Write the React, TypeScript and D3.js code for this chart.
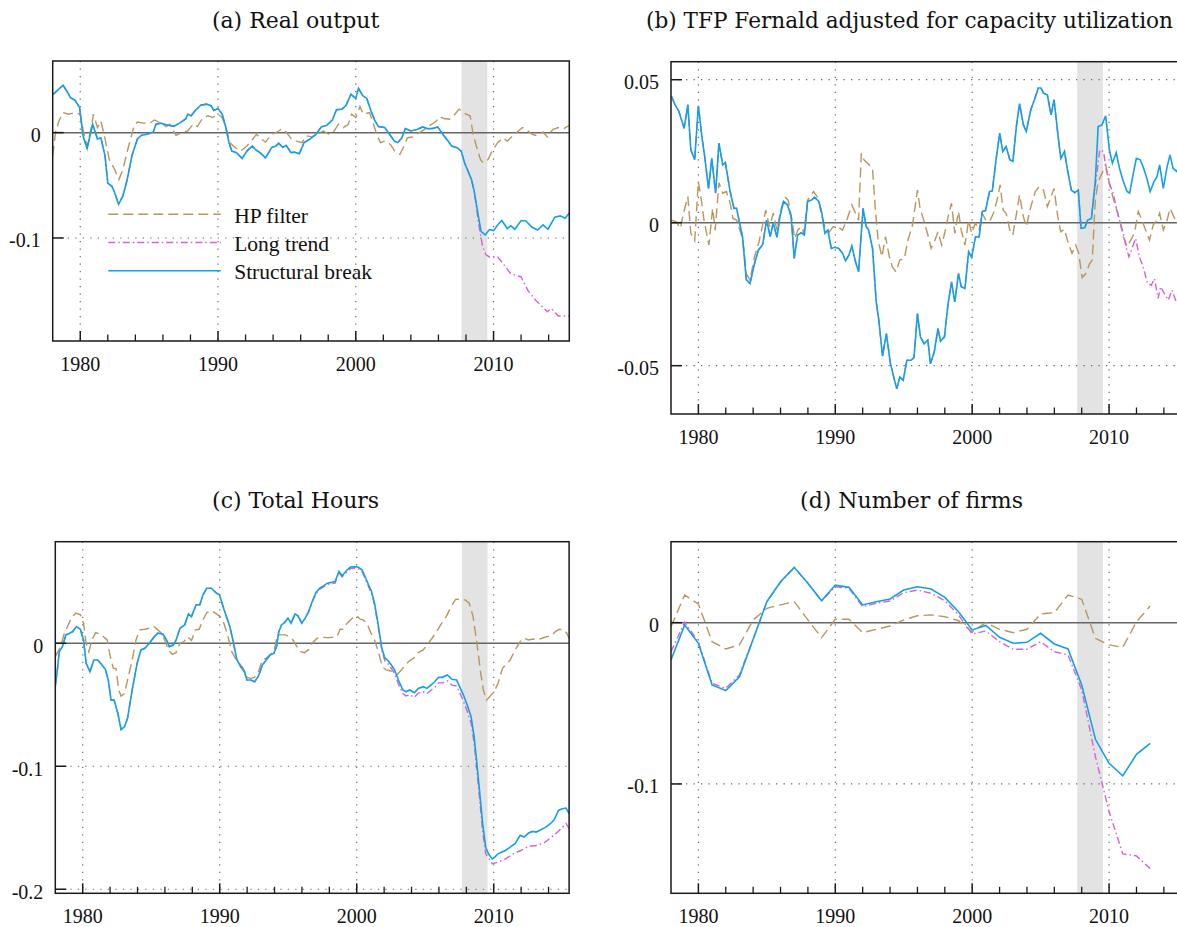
import React from 'react';
import * as d3 from 'd3';

type P = [number, number];

// ---------- shared axis data ----------
const decadeTicks = [1980, 1990, 2000, 2010];
const minorTicks = [1982, 1984, 1986, 1988, 1992, 1994, 1996, 1998, 2002, 2004, 2006, 2008, 2012, 2014];
const recession: P = [2007.67, 2009.55];
const seriesNames = ['HP filter', 'Long trend', 'Structural break'];

// ---------- (a) Real output ----------
const aCommon: P[] = [
  [1978.0, 0.036], [1978.25, 0.039], [1978.5, 0.042], [1978.75, 0.045], [1979.0, 0.040], [1979.3, 0.033],
  [1979.6, 0.031], [1979.95, 0.024], [1980.2, -0.003], [1980.5, -0.015], [1980.9, 0.008], [1981.25, -0.006],
  [1981.5, -0.005], [1981.8, -0.022], [1982.0, -0.048], [1982.3, -0.051], [1982.5, -0.057], [1982.78, -0.068],
  [1983.1, -0.060], [1983.4, -0.045], [1983.75, -0.022], [1984.15, -0.006], [1984.45, -0.0025], [1984.85, -0.0015],
  [1985.3, 0.0006], [1985.5, 0.008], [1985.85, 0.009], [1986.1, 0.008], [1986.4, 0.007], [1986.8, 0.006],
  [1987.2, 0.009], [1987.65, 0.013], [1987.8, 0.0175], [1988.05, 0.016], [1988.35, 0.021], [1988.75, 0.026],
  [1989.15, 0.027], [1989.5, 0.0255], [1989.7, 0.021], [1990.0, 0.023], [1990.3, 0.0175], [1990.55, 0.006],
  [1990.8, -0.0095], [1991.0, -0.0175], [1991.35, -0.019], [1991.75, -0.0245], [1992.1, -0.0175], [1992.5, -0.0127],
  [1992.7, -0.016], [1993.05, -0.019], [1993.45, -0.024], [1993.9, -0.014], [1994.2, -0.0127], [1994.4, -0.010],
  [1994.7, -0.014], [1994.95, -0.012], [1995.3, -0.019], [1995.55, -0.0185], [1995.9, -0.020], [1996.25, -0.0095],
  [1996.65, -0.0064], [1997.1, -0.0016], [1997.5, 0.0054], [1997.9, 0.007], [1998.3, 0.012], [1998.6, 0.0217],
  [1999.0, 0.0223], [1999.3, 0.026], [1999.65, 0.0366], [1999.85, 0.034], [2000.0, 0.0325], [2000.2, 0.042],
  [2000.5, 0.035], [2000.8, 0.0325], [2001.1, 0.0207], [2001.4, 0.011], [2001.65, 0.0057], [2002.1, 0.0048],
  [2002.45, -0.0016], [2002.8, -0.008], [2003.05, -0.0095], [2003.35, -0.0048], [2003.6, 0.0038], [2004.0, 0.0016],
  [2004.45, 0.003], [2004.85, 0.0054], [2005.2, 0.0038], [2005.55, 0.0038], [2005.95, 0.0054], [2006.4, -0.003],
  [2006.7, -0.008], [2006.95, -0.0127], [2007.35, -0.0143], [2007.65, -0.0175], [2007.9, -0.0287], [2008.1, -0.035],
  [2008.4, -0.0446], [2008.6, -0.0557],
];
const aStructTail: P[] = [
  [2008.9, -0.0796], [2009.1, -0.094], [2009.4, -0.097], [2009.7, -0.092], [2010.0, -0.093], [2010.3, -0.0876],
  [2010.6, -0.0834], [2011.0, -0.091], [2011.25, -0.0885], [2011.55, -0.0917], [2012.0, -0.0834], [2012.35, -0.0838],
  [2012.8, -0.0898], [2013.2, -0.0924], [2013.6, -0.0876], [2013.95, -0.0917], [2014.45, -0.0803], [2014.85, -0.079],
  [2015.2, -0.0812], [2015.5, -0.0764],
];
const aLongTail: P[] = [
  [2008.9, -0.085], [2009.2, -0.108], [2009.45, -0.116], [2009.7, -0.118], [2010.3, -0.118], [2010.85, -0.127],
  [2011.25, -0.134], [2012.0, -0.137], [2012.5, -0.150], [2013.05, -0.159], [2013.9, -0.170], [2014.2, -0.167],
  [2014.7, -0.174], [2015.5, -0.174],
];
const aHP: P[] = [
  [1978.0, -0.022], [1978.2, 0.0], [1978.45, 0.011], [1978.75, 0.019], [1979.15, 0.0175], [1979.6, 0.019],
  [1980.0, 0.0175], [1980.2, 0.003], [1980.5, -0.013], [1980.85, 0.008], [1980.95, 0.0175], [1981.25, 0.005],
  [1981.5, 0.011], [1981.8, -0.006], [1982.1, -0.025], [1982.5, -0.035], [1982.8, -0.0446], [1983.1, -0.035],
  [1983.45, -0.016], [1983.9, 0.006], [1984.15, 0.010], [1984.6, 0.009], [1985.1, 0.0095], [1985.4, 0.012],
  [1985.85, 0.009], [1986.25, 0.0057], [1986.5, 0.008], [1986.95, -0.0025], [1987.35, 0.0], [1987.8, 0.0016],
  [1988.2, 0.008], [1988.5, 0.0057], [1988.9, 0.0143], [1989.3, 0.016], [1989.6, 0.0143], [1990.0, 0.0175],
  [1990.3, 0.0143], [1990.55, 0.006], [1990.85, -0.0095], [1991.25, -0.0143], [1991.65, -0.0175], [1992.1, -0.0127],
  [1992.5, -0.0064], [1992.8, -0.0016], [1993.05, -0.005], [1993.45, -0.009], [1993.9, -0.0016], [1994.3, 0.0006],
  [1994.65, 0.0038], [1994.95, 0.0006], [1995.35, -0.0064], [1995.7, -0.008], [1996.1, -0.0095], [1996.4, -0.003],
  [1996.8, -0.004], [1997.2, -0.0016], [1997.65, 0.0016], [1998.05, -0.0016], [1998.35, 0.0], [1998.75, 0.008],
  [1999.1, 0.0048], [1999.45, 0.008], [1999.7, 0.0175], [2000.0, 0.0143], [2000.3, 0.0248], [2000.55, 0.0175],
  [2001.0, 0.019], [2001.25, 0.0096], [2001.55, -0.003], [2001.8, -0.0095], [2002.1, -0.008], [2002.5, -0.011],
  [2002.9, -0.019], [2003.2, -0.0207], [2003.45, -0.0143], [2003.75, -0.0048], [2004.15, -0.004], [2004.6, 0.0],
  [2005.0, 0.003], [2005.4, 0.007], [2005.85, 0.011], [2006.1, 0.0153], [2006.4, 0.0134], [2006.8, 0.0127],
  [2007.2, 0.0175], [2007.5, 0.0223], [2007.8, 0.0197], [2008.0, 0.0175], [2008.3, 0.016], [2008.5, 0.0],
  [2008.75, -0.0127], [2009.05, -0.0255], [2009.25, -0.0287], [2009.6, -0.0255], [2009.9, -0.0175], [2010.3, -0.0095],
  [2010.7, -0.0048], [2011.0, -0.008], [2011.4, -0.003], [2011.8, 0.0016], [2012.1, 0.0048], [2012.35, 0.003],
  [2012.8, -0.0016], [2013.2, -0.003], [2013.6, 0.0006], [2013.9, -0.004], [2014.3, 0.003], [2014.7, 0.0048],
  [2015.1, 0.0038], [2015.5, 0.007],
];

// ---------- (b) TFP Fernald adjusted for capacity utilization ----------
const bCommon: P[] = [
  [1978.03, 0.0442], [1978.3, 0.0412], [1978.58, 0.0389], [1978.96, 0.033], [1979.23, 0.0412], [1979.45, 0.0255],
  [1979.73, 0.022], [1980.0, 0.0409], [1980.27, 0.0296], [1980.46, 0.0231], [1980.74, 0.012], [1980.98, 0.0225],
  [1981.26, 0.0103], [1981.5, 0.0278], [1981.78, 0.0202], [1981.97, 0.021], [1982.32, 0.0109], [1982.6, 0.005],
  [1982.79, 0.005], [1983.23, -0.0051], [1983.5, -0.0199], [1983.77, -0.0213], [1984.1, -0.0143], [1984.38, -0.0096],
  [1984.7, -0.0076], [1984.98, 0.0009], [1985.25, -0.0049], [1985.47, 0.0], [1985.74, -0.0051], [1985.96, 0.0023],
  [1986.23, 0.0074], [1986.51, 0.0062], [1986.78, 0.0021], [1987.0, -0.0125], [1987.25, -0.0043], [1987.52, -0.0035],
  [1987.74, -0.0043], [1987.98, 0.0074], [1988.26, 0.0079], [1988.48, 0.0089], [1988.8, 0.0074], [1989.02, 0.0033],
  [1989.24, -0.0037], [1989.46, -0.0026], [1989.71, -0.009], [1989.98, -0.0086], [1990.25, -0.009], [1990.53, -0.0107],
  [1990.75, -0.0133], [1991.0, -0.0113], [1991.21, -0.0082], [1991.48, -0.0137], [1991.7, -0.0172], [1992.03, 0.005],
  [1992.25, -0.0012], [1992.44, -0.0026], [1992.72, -0.009], [1992.99, -0.0277], [1993.18, -0.0341], [1993.45, -0.0467],
  [1993.73, -0.0388], [1994.03, -0.0493], [1994.27, -0.054], [1994.49, -0.0581], [1994.71, -0.054], [1994.96, -0.0551],
  [1995.23, -0.0481], [1995.53, -0.0481], [1995.75, -0.0472], [1996.0, -0.0318], [1996.22, -0.040], [1996.49, -0.0423],
  [1996.76, -0.0411], [1996.95, -0.0493], [1997.23, -0.0452], [1997.5, -0.037], [1997.69, -0.0414], [1997.97, -0.040],
  [1998.24, -0.0283], [1998.49, -0.0207], [1998.73, -0.0277], [1999.0, -0.0178], [1999.2, -0.0224], [1999.47, -0.023],
  [1999.74, -0.0102], [1999.96, -0.0121], [2000.24, -0.0049], [2000.51, -0.0049], [2000.73, 0.0039], [2000.97, 0.0042],
  [2001.27, 0.0109], [2001.47, 0.0111], [2001.74, 0.022], [2002.01, 0.0313], [2002.23, 0.0249], [2002.48, 0.0266],
  [2002.75, 0.022], [2002.97, 0.0214], [2003.24, 0.0342], [2003.46, 0.0416], [2003.74, 0.0342], [2003.95, 0.0319],
  [2004.28, 0.0395], [2004.56, 0.0432], [2004.83, 0.0471], [2005.02, 0.0471], [2005.21, 0.0453], [2005.49, 0.0447],
  [2005.76, 0.0377], [2005.98, 0.043], [2006.25, 0.0313], [2006.47, 0.0225], [2006.74, 0.0249], [2006.96, 0.0185],
  [2007.24, 0.0114], [2007.48, 0.0105], [2007.75, 0.0114], [2007.95, -0.002], [2008.22, -0.0018], [2008.44, 0.0009],
  [2008.71, 0.0015],
];
const bStructTail: P[] = [
  [2008.99, 0.0144], [2009.2, 0.0336], [2009.48, 0.0342], [2009.75, 0.0374], [2010.02, 0.0255], [2010.24, 0.0208],
  [2010.52, 0.0245], [2010.76, 0.019], [2011.04, 0.0144], [2011.31, 0.0109], [2011.5, 0.0103], [2011.77, 0.0173],
  [2011.99, 0.0225], [2012.27, 0.022], [2012.48, 0.0196], [2012.76, 0.0155], [2013.0, 0.0109], [2013.28, 0.0144],
  [2013.5, 0.0161], [2013.69, 0.0202], [2013.96, 0.012], [2014.24, 0.0196], [2014.45, 0.0237], [2014.67, 0.019],
  [2014.95, 0.0179], [2015.2, 0.021], [2015.5, 0.019],
];
const bLongTail: P[] = [
  [2008.85, 0.0079], [2009.12, 0.0179], [2009.32, 0.0255], [2009.59, 0.0249], [2009.8, 0.0185], [2010.02, 0.0138],
  [2010.3, 0.0103], [2010.49, 0.0062], [2010.76, 0.0009], [2011.04, -0.0037], [2011.23, -0.0084], [2011.45, -0.0119],
  [2011.72, -0.0084], [2011.94, -0.0055], [2012.21, -0.0119], [2012.48, -0.0154], [2012.81, -0.0213], [2013.09, -0.0218],
  [2013.31, -0.0195], [2013.58, -0.0265], [2013.77, -0.0224], [2014.04, -0.0248], [2014.32, -0.0271], [2014.59, -0.0236],
  [2014.95, -0.0283], [2015.5, -0.027],
];
const bHP: P[] = [
  [1978.03, 0.0009], [1978.36, 0.0004], [1978.69, -0.002], [1978.91, 0.0033], [1979.23, 0.0091], [1979.45, -0.0037],
  [1979.73, -0.0063], [1980.0, 0.0144], [1980.22, 0.0079], [1980.41, 0.0009], [1980.77, -0.0078], [1981.04, 0.005],
  [1981.23, -0.0026], [1981.5, 0.014], [1981.78, 0.0103], [1982.05, 0.0109], [1982.32, 0.0068], [1982.52, 0.0015],
  [1982.79, 0.0009], [1983.23, -0.0055], [1983.5, -0.0178], [1983.77, -0.0201], [1984.1, -0.0119], [1984.43, -0.0067],
  [1984.92, 0.0044], [1985.2, -0.0014], [1985.47, 0.0033], [1985.74, -0.0026], [1986.02, 0.0044], [1986.29, 0.0091],
  [1986.56, 0.0079], [1986.84, 0.0009], [1987.03, -0.0055], [1987.27, -0.0026], [1987.52, -0.0014], [1987.71, -0.0037],
  [1987.98, 0.0079], [1988.42, 0.0109], [1988.75, 0.0085], [1988.97, 0.0033], [1989.24, -0.0014], [1989.57, -0.0032],
  [1989.84, -0.0014], [1990.17, -0.0014], [1990.53, -0.0026], [1990.88, 0.0015], [1991.21, 0.0062], [1991.48, 0.0033],
  [1991.7, 0.0009], [1991.9, 0.0243], [1992.09, 0.022], [1992.36, 0.0208], [1992.72, 0.019], [1992.91, 0.0056],
  [1993.13, -0.0061], [1993.4, -0.0119], [1993.67, -0.0049], [1993.95, -0.0119], [1994.16, -0.0154], [1994.44, -0.0172],
  [1994.71, -0.0131], [1995.04, -0.0125], [1995.31, -0.0061], [1995.64, -0.0008], [1996.0, 0.0114], [1996.19, 0.005],
  [1996.46, 0.0009], [1996.73, -0.0037], [1997.0, -0.009], [1997.28, -0.0061], [1997.5, -0.0032], [1997.77, -0.0078],
  [1997.99, -0.0037], [1998.24, 0.0021], [1998.49, 0.0068], [1998.73, -0.0037], [1999.0, 0.0039], [1999.2, -0.0026],
  [1999.47, -0.0078], [1999.74, 0.0009], [1999.96, -0.0037], [2000.24, -0.0002], [2000.51, -0.0026], [2000.73, 0.0033],
  [2001.0, 0.0009], [2001.27, 0.0004], [2001.55, 0.0033], [2001.82, 0.0079], [2002.04, 0.0132], [2002.26, 0.0044],
  [2002.48, 0.0033], [2002.75, -0.0026], [2002.97, -0.0043], [2003.24, 0.0033], [2003.46, 0.0097], [2003.74, 0.0021],
  [2003.95, -0.0014], [2004.28, 0.0056], [2004.61, 0.0109], [2004.88, 0.0126], [2005.21, 0.0114], [2005.49, 0.0056],
  [2005.76, 0.0091], [2005.98, 0.012], [2006.25, 0.0021], [2006.47, -0.0032], [2006.74, -0.0023], [2007.02, -0.0072],
  [2007.29, -0.0107], [2007.56, -0.0078], [2007.78, -0.0107], [2008.03, -0.0192], [2008.3, -0.0178], [2008.58, -0.0143],
  [2008.77, -0.0131], [2008.99, 0.0079], [2009.2, 0.0144], [2009.48, 0.0173], [2009.75, 0.0202], [2010.02, 0.0138],
  [2010.3, 0.0085], [2010.52, 0.005], [2010.76, 0.0009], [2011.04, -0.0049], [2011.31, -0.0084], [2011.58, -0.0061],
  [2011.85, -0.0037], [2012.13, 0.0039], [2012.4, 0.0009], [2012.67, -0.0026], [2012.95, -0.0061], [2013.22, -0.0008],
  [2013.5, 0.0009], [2013.69, 0.0033], [2013.96, -0.0026], [2014.24, 0.0009], [2014.45, 0.005], [2014.73, 0.0021],
  [2014.95, -0.0002], [2015.2, 0.002], [2015.5, 0.0],
];

// ---------- (c) Total Hours ----------
const cCommon: P[] = [
  [1978.0, -0.0348], [1978.15, -0.0217], [1978.29, -0.0068], [1978.52, -0.0027], [1978.77, 0.0068], [1979.05, 0.0082],
  [1979.27, 0.0095], [1979.55, 0.0136], [1979.83, 0.0114], [1980.06, 0.0027], [1980.25, -0.0163], [1980.53, -0.0231],
  [1980.81, -0.0136], [1981.09, -0.0136], [1981.37, -0.0171], [1981.65, -0.0212], [1981.87, -0.0299], [1982.07, -0.0462],
  [1982.29, -0.0462], [1982.57, -0.0571], [1982.8, -0.0701], [1983.05, -0.0679], [1983.27, -0.0611], [1983.61, -0.038],
  [1983.97, -0.0163], [1984.25, -0.0054], [1984.53, -0.0041], [1984.86, 0.0], [1985.23, 0.0054], [1985.48, 0.0082],
  [1985.84, 0.0076], [1986.12, 0.0027], [1986.32, -0.0027], [1986.6, -0.0014], [1986.82, 0.0027], [1987.1, 0.0122],
  [1987.44, 0.0149], [1987.72, 0.0239], [1987.94, 0.0217], [1988.28, 0.0313], [1988.55, 0.0313], [1988.78, 0.0394],
  [1989.06, 0.0448], [1989.39, 0.0448], [1989.76, 0.0408], [1989.98, 0.0394], [1990.32, 0.0272], [1990.74, 0.0136],
  [1991.01, 0.0], [1991.24, -0.013], [1991.52, -0.019], [1991.8, -0.0231], [1991.99, -0.0299], [1992.27, -0.0299],
  [1992.55, -0.0313], [1992.83, -0.0266], [1993.11, -0.0177], [1993.39, -0.0136], [1993.67, -0.0095], [1993.95, -0.0082],
  [1994.15, -0.0027], [1994.31, 0.0095], [1994.51, 0.0149], [1994.73, 0.0168], [1994.98, 0.0204], [1995.21, 0.0163],
  [1995.49, 0.0239], [1995.71, 0.0223], [1995.99, 0.0163], [1996.24, 0.0204],
];
const cStructTail: P[] = [
  [1996.49, 0.0258], [1996.75, 0.034], [1997.03, 0.0413], [1997.3, 0.0448], [1997.58, 0.0467], [1997.86, 0.0489],
  [1998.14, 0.0495], [1998.42, 0.0503], [1998.7, 0.0584], [1998.93, 0.0549], [1999.26, 0.0592], [1999.54, 0.062],
  [1999.82, 0.0622], [2000.1, 0.062], [2000.38, 0.0598], [2000.58, 0.0549], [2000.86, 0.0476], [2001.08, 0.0421],
  [2001.3, 0.0326], [2001.55, 0.0163], [2001.83, -0.0041], [2002.06, -0.0122], [2002.25, -0.0136], [2002.53, -0.0177],
  [2002.76, -0.0217], [2003.04, -0.0299], [2003.37, -0.038], [2003.6, -0.0394], [2003.87, -0.038], [2004.21, -0.0402],
  [2004.49, -0.0367], [2004.85, -0.0353], [2005.13, -0.0367], [2005.41, -0.034], [2005.69, -0.0313], [2005.97, -0.0277],
  [2006.25, -0.0277], [2006.61, -0.0258], [2006.95, -0.0293], [2007.29, -0.0299], [2007.51, -0.0353], [2007.79, -0.0421],
  [2008.07, -0.0503], [2008.35, -0.0598], [2008.57, -0.0761], [2008.77, -0.0978], [2008.96, -0.1196], [2009.19, -0.1467],
  [2009.41, -0.1658], [2009.61, -0.1712], [2009.89, -0.1753], [2010.08, -0.1739], [2010.31, -0.1712], [2010.59, -0.1698],
  [2010.86, -0.1685], [2011.2, -0.1658], [2011.56, -0.163], [2011.93, -0.1562], [2012.21, -0.1576], [2012.54, -0.1543],
  [2012.82, -0.153], [2013.1, -0.1535], [2013.44, -0.1516], [2013.8, -0.1495], [2014.13, -0.1467], [2014.41, -0.1435],
  [2014.72, -0.1359], [2015.0, -0.1345], [2015.28, -0.134], [2015.5, -0.1386],
];
const cLongTail: P[] = [
  [1996.49, 0.0255], [1996.75, 0.0335], [1997.03, 0.0405], [1997.3, 0.044], [1997.58, 0.0458], [1997.86, 0.0478],
  [1998.14, 0.0485], [1998.42, 0.049], [1998.7, 0.0575], [1998.93, 0.054], [1999.26, 0.0578], [1999.54, 0.0608],
  [1999.82, 0.0612], [2000.1, 0.0608], [2000.38, 0.0585], [2000.58, 0.0535], [2000.86, 0.0462], [2001.08, 0.0405],
  [2001.3, 0.031], [2001.55, 0.0145], [2001.83, -0.006], [2002.06, -0.0145], [2002.25, -0.016], [2002.53, -0.0205],
  [2002.76, -0.0245], [2003.04, -0.033], [2003.37, -0.041], [2003.6, -0.0428], [2003.87, -0.0418], [2004.21, -0.044],
  [2004.49, -0.0405], [2004.85, -0.0395], [2005.13, -0.041], [2005.41, -0.0382], [2005.69, -0.0358], [2005.97, -0.0322],
  [2006.25, -0.0322], [2006.61, -0.0305], [2006.95, -0.034], [2007.29, -0.0348], [2007.51, -0.040], [2007.79, -0.047],
  [2008.07, -0.0555], [2008.35, -0.065], [2008.57, -0.0815], [2008.77, -0.1035], [2008.96, -0.1255], [2009.19, -0.153],
  [2009.41, -0.171], [2009.89, -0.1793], [2010.31, -0.178], [2010.86, -0.1753], [2011.42, -0.1712], [2011.97, -0.1685],
  [2012.54, -0.1652], [2013.1, -0.1644], [2013.66, -0.1625], [2014.22, -0.1576], [2014.78, -0.1522], [2015.28, -0.1467],
  [2015.5, -0.1508],
];
const cHP: P[] = [
  [1978.0, -0.0109], [1978.15, -0.0076], [1978.38, -0.0027], [1978.66, 0.0082], [1978.94, 0.0149], [1979.22, 0.0217],
  [1979.5, 0.0245], [1979.83, 0.0231], [1980.06, 0.0163], [1980.25, 0.0], [1980.45, -0.0068], [1980.67, 0.0027],
  [1980.95, 0.0087], [1981.23, 0.0076], [1981.51, 0.0054], [1981.79, 0.0027], [1982.01, -0.0109], [1982.24, -0.0204],
  [1982.43, -0.0204], [1982.63, -0.038], [1982.8, -0.0429], [1983.05, -0.0408], [1983.33, -0.0272], [1983.61, -0.0136],
  [1983.89, 0.0027], [1984.17, 0.0109], [1984.53, 0.0114], [1984.86, 0.0122], [1985.2, 0.0136], [1985.48, 0.0109],
  [1985.76, 0.0082], [1985.98, 0.0027], [1986.26, -0.0054], [1986.54, -0.009], [1986.82, -0.0076], [1987.1, 0.0],
  [1987.38, 0.0014], [1987.66, 0.0054], [1987.94, 0.0022], [1988.22, 0.0109], [1988.5, 0.0114], [1988.78, 0.019],
  [1989.06, 0.025], [1989.39, 0.0266], [1989.76, 0.0239], [1990.04, 0.0217], [1990.32, 0.0158], [1990.6, 0.0054],
  [1990.88, -0.0068], [1991.15, -0.0122], [1991.43, -0.0163], [1991.71, -0.0204], [1991.99, -0.0277], [1992.27, -0.0285],
  [1992.55, -0.0277], [1992.83, -0.0231], [1993.11, -0.0136], [1993.39, -0.0122], [1993.67, -0.0095], [1993.95, -0.0068],
  [1994.23, 0.0068], [1994.51, 0.0068], [1994.79, 0.0068], [1995.07, 0.0054], [1995.35, 0.0027], [1995.63, -0.0027],
  [1995.91, -0.0068], [1996.19, -0.0076], [1996.47, -0.0054], [1996.75, 0.0], [1997.11, 0.0041], [1997.44, 0.0049],
  [1997.86, 0.0046], [1998.28, 0.0049], [1998.56, 0.0054], [1998.79, 0.0114], [1998.98, 0.0114], [1999.26, 0.0158],
  [1999.54, 0.019], [1999.82, 0.0217], [2000.02, 0.0223], [2000.24, 0.0196], [2000.46, 0.019], [2000.74, 0.0163],
  [2001.02, 0.0087], [2001.3, 0.0027], [2001.58, -0.0068], [2001.86, -0.019], [2002.14, -0.0217], [2002.42, -0.0223],
  [2002.7, -0.0231], [2002.98, -0.025], [2003.26, -0.0217], [2003.54, -0.0177], [2003.87, -0.0141], [2004.15, -0.0122],
  [2004.49, -0.0076], [2004.85, -0.0054], [2005.13, -0.0014], [2005.5, 0.0041], [2005.83, 0.0095], [2006.17, 0.0158],
  [2006.53, 0.0217], [2006.89, 0.0299], [2007.23, 0.0359], [2007.65, 0.0353], [2007.93, 0.0353], [2008.21, 0.0326],
  [2008.49, 0.0217], [2008.77, 0.0], [2009.05, -0.0245], [2009.24, -0.038], [2009.47, -0.0462], [2009.69, -0.0435],
  [2010.03, -0.0394], [2010.31, -0.0326], [2010.64, -0.0204], [2010.92, -0.0168], [2011.2, -0.0136], [2011.56, -0.0054],
  [2011.93, 0.0014], [2012.21, 0.0041], [2012.54, 0.0027], [2012.88, 0.0035], [2013.16, 0.0027], [2013.52, 0.0041],
  [2013.88, 0.0054], [2014.22, 0.006], [2014.5, 0.0095], [2014.78, 0.0114], [2015.11, 0.0109], [2015.33, 0.0082],
  [2015.5, 0.0041],
];

// ---------- (d) Number of firms (annual) ----------
const dYears = [1978, 1979, 1980, 1981, 1982, 1983, 1984, 1985, 1986, 1987, 1988, 1989, 1990, 1991, 1992, 1993, 1994, 1995,
  1996, 1997, 1998, 1999, 2000, 2001, 2002, 2003, 2004, 2005, 2006, 2007, 2008, 2009, 2010, 2011, 2012, 2013];
const dStruct = [-0.0231, -0.0014, -0.0128, -0.0386, -0.0421, -0.0335, -0.0103, 0.013, 0.0254, 0.0343, 0.0244, 0.0136,
  0.0233, 0.0219, 0.011, 0.013, 0.0147, 0.0202, 0.0223, 0.0209, 0.0157, 0.0068, -0.0045, -0.0017, -0.0091, -0.0128,
  -0.0122, -0.0066, -0.0132, -0.0163, -0.0386, -0.0723, -0.0872, -0.095, -0.0816, -0.0748];
const dLong = [-0.018, 0.0004, -0.012, -0.0376, -0.0407, -0.0324, -0.0103, 0.013, 0.025, 0.0343, 0.0244, 0.0136,
  0.0223, 0.0213, 0.0099, 0.012, 0.0134, 0.0186, 0.0202, 0.0182, 0.0136, 0.0048, -0.007, -0.0052, -0.0118, -0.0165,
  -0.0165, -0.0118, -0.018, -0.020, -0.0417, -0.0831, -0.1171, -0.1434, -0.1446, -0.1525];
const dHP = [-0.0025, 0.0171, 0.0116, -0.0118, -0.0163, -0.0138, 0.0017, 0.0089, 0.011, 0.013, 0.0017, -0.0093,
  0.0021, 0.0021, -0.0062, -0.0041, -0.0021, 0.0017, 0.0043, 0.0048, 0.0037, 0.0012, -0.0056, 0.0, -0.0041, -0.0062,
  -0.0041, 0.0054, 0.0062, 0.0171, 0.0145, -0.0097, -0.0138, -0.0153, 0.0006, 0.0103];

// ---------- styling ----------
const COLORS = { hp: '#b8965e', long: '#d462d4', struct: '#14a0e6' };
const DASH = { hp: '10,5', long: '7,3,1.5,3', struct: undefined as string | undefined };
const TICK_FONT = '"Liberation Serif", "Times New Roman", serif';
const TITLE_FONT = '"DejaVu Serif", serif';

type PanelSpec = {
  id: string;
  title: string;
  titleX: number;
  titleY: number;
  titleAnchor: 'middle' | 'start';
  titleLength?: number;
  left: number; right: number; top: number; bottom: number;
  yDomain: [number, number];
  yTicks: number[];
  yLabels: string[];
  hp: P[]; long: P[]; struct: P[];
  legend?: boolean;
};

const zip = (xs: number[], ys: number[]): P[] => xs.map((x, i) => [x, ys[i]]);

const panels: PanelSpec[] = [
  {
    id: 'a', title: '(a) Real output', titleX: 295.6, titleY: 28, titleAnchor: 'middle',
    left: 52.7, right: 569.3, top: 61, bottom: 341, yDomain: [-0.1978, 0.068],
    yTicks: [0, -0.1], yLabels: ['0', '-0.1'],
    hp: aHP, long: [...aCommon, ...aLongTail], struct: [...aCommon, ...aStructTail], legend: true,
  },
  {
    id: 'b', title: '(b) TFP Fernald adjusted for capacity utilization', titleX: 646, titleY: 28,
    titleAnchor: 'start', titleLength: 527,
    left: 671, right: 1184.4, top: 61.7, bottom: 414, yDomain: [-0.0669, 0.0563],
    yTicks: [0.05, 0, -0.05], yLabels: ['0.05', '0', '-0.05'],
    hp: bHP, long: [...bCommon, ...bLongTail], struct: [...bCommon, ...bStructTail],
  },
  {
    id: 'c', title: '(c) Total Hours', titleX: 295.6, titleY: 508, titleAnchor: 'middle',
    left: 55.3, right: 569.1, top: 541.7, bottom: 893.3, yDomain: [-0.2033, 0.0826],
    yTicks: [0, -0.1, -0.2], yLabels: ['0', '-0.1', '-0.2'],
    hp: cHP, long: [...cCommon, ...cLongTail], struct: [...cCommon, ...cStructTail],
  },
  {
    id: 'd', title: '(d) Number of firms', titleX: 911.5, titleY: 508, titleAnchor: 'middle',
    left: 671, right: 1184.4, top: 541.7, bottom: 893.3, yDomain: [-0.1678, 0.0502],
    yTicks: [0, -0.1], yLabels: ['0', '-0.1'],
    hp: zip(dYears, dHP), long: zip(dYears, dLong), struct: zip(dYears, dStruct),
  },
];

function Panel({ p }: { p: PanelSpec }) {
  const x = d3.scaleLinear().domain([1978, 2015.5]).range([p.left, p.right]);
  const y = d3.scaleLinear().domain(p.yDomain).range([p.bottom, p.top]);
  const line = d3.line<P>().x((d) => x(d[0])).y((d) => y(d[1]));
  const clipId = `clip-${p.id}`;
  const gridDash = '1.3,6.2';
  return (
    <g>
      <defs>
        <clipPath id={clipId}>
          <rect x={p.left} y={p.top} width={p.right - p.left} height={p.bottom - p.top} />
        </clipPath>
      </defs>
      <text
        x={p.titleX}
        y={p.titleY}
        textAnchor={p.titleAnchor}
        fontFamily={TITLE_FONT}
        fontSize={p.titleLength ? 21.5 : 22}
        fill="#111"
        {...(p.titleLength ? { textLength: p.titleLength, lengthAdjust: 'spacingAndGlyphs' } : {})}
      >
        {p.title}
      </text>
      <g clipPath={`url(#${clipId})`}>
        <rect x={x(recession[0])} y={p.top} width={x(recession[1]) - x(recession[0])} height={p.bottom - p.top} fill="#e3e3e3" />
        {decadeTicks.map((t) => (
          <line key={`vg${t}`} x1={x(t)} x2={x(t)} y1={p.top} y2={p.bottom} stroke="#6a6a6a" strokeWidth={1.2} strokeDasharray={gridDash} />
        ))}
        {p.yTicks.filter((t) => t !== 0).map((t) => (
          <line key={`hg${t}`} x1={p.left} x2={p.right} y1={y(t)} y2={y(t)} stroke="#6a6a6a" strokeWidth={1.2} strokeDasharray={gridDash} />
        ))}
        <line x1={p.left} x2={p.right} y1={y(0)} y2={y(0)} stroke="#666" strokeWidth={1.5} />
        <path d={line(p.hp) || ''} fill="none" stroke={COLORS.hp} strokeWidth={1.4} strokeDasharray={DASH.hp} />
        <path d={line(p.long) || ''} fill="none" stroke={COLORS.long} strokeWidth={1.4} strokeDasharray={DASH.long} />
        <path d={line(p.struct) || ''} fill="none" stroke={COLORS.struct} strokeWidth={1.6} />
      </g>
      <rect x={p.left} y={p.top} width={p.right - p.left} height={p.bottom - p.top} fill="none" stroke="#1a1a1a" strokeWidth={1.5} />
      {decadeTicks.map((t) => (
        <g key={`xt${t}`}>
          <line x1={x(t)} x2={x(t)} y1={p.bottom} y2={p.bottom - 10} stroke="#1a1a1a" strokeWidth={1.5} />
          <text x={x(t)} y={p.bottom + 30} textAnchor="middle" fontFamily={TICK_FONT} fontSize={20} fill="#111">{t}</text>
        </g>
      ))}
      {minorTicks.map((t) => (
        <line key={`mt${t}`} x1={x(t)} x2={x(t)} y1={p.bottom} y2={p.bottom - 6.5} stroke="#1a1a1a" strokeWidth={1.3} />
      ))}
      {p.yTicks.map((t, i) => (
        <g key={`yt${t}`}>
          <line x1={p.left} x2={p.left + 11} y1={y(t)} y2={y(t)} stroke="#1a1a1a" strokeWidth={1.5} />
          <text x={p.left - 12} y={y(t) + 9.5} textAnchor="end" fontFamily={TICK_FONT} fontSize={20} fill="#111">{p.yLabels[i]}</text>
        </g>
      ))}
      {p.legend && (
        <g>
          {(['hp', 'long', 'struct'] as const).map((k, i) => (
            <g key={k}>
              <line x1={108.3} x2={220.8} y1={214.3 + i * 28.2} y2={214.3 + i * 28.2} stroke={COLORS[k]} strokeWidth={k === 'struct' ? 1.6 : 1.4} strokeDasharray={DASH[k]} />
              <text x={234.2} y={222.5 + i * 28.2} fontFamily={TICK_FONT} fontSize={21.5} fill="#111">{seriesNames[i]}</text>
            </g>
          ))}
        </g>
      )}
    </g>
  );
}

export default function App() {
  return (
    <svg width={1177} height={927} viewBox="0 0 1177 927" style={{ position: 'absolute', left: 0, top: 0, background: '#fff' }}>
      <rect x={0} y={0} width={1177} height={927} fill="#fff" />
      {panels.map((p) => (
        <Panel key={p.id} p={p} />
      ))}
    </svg>
  );
}
